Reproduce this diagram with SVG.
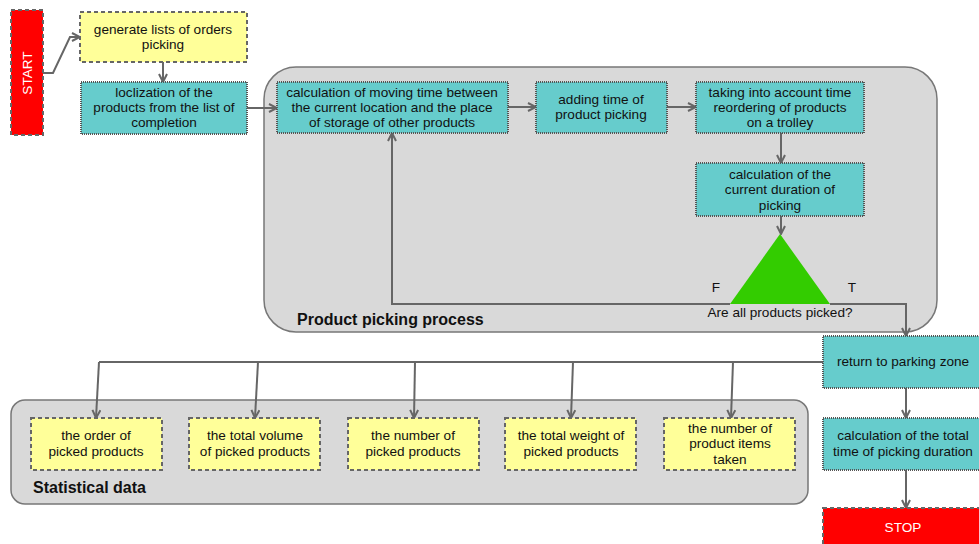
<svg xmlns="http://www.w3.org/2000/svg" width="979" height="544" viewBox="0 0 979 544">
<style>
text{font-family:"Liberation Sans",Arial,sans-serif;font-size:13.6px;fill:#111;text-anchor:middle}
.y{fill:#ffff99;stroke:#666;stroke-width:2;stroke-dasharray:4,3}
.t{fill:#66cccc;stroke:#555;stroke-width:2;stroke-dasharray:1,1}
.r{fill:#ff0000;stroke:#666;stroke-width:2;stroke-dasharray:4,3}
.g{fill:#d9d9d9;stroke:#777;stroke-width:1.5}
.b{font-weight:bold;font-size:16px;text-anchor:start}
.w{fill:#fff}
.c{fill:none;stroke:#666;stroke-width:2}
.c2{fill:none;stroke:#666;stroke-width:2;marker-end:url(#a)}
</style>
<defs>
<marker id="a" viewBox="0 0 10 10" refX="9" refY="5" markerWidth="5" markerHeight="5" orient="auto" markerUnits="strokeWidth">
<path d="M1,1 L9,5 L1,9" fill="none" stroke="#666" stroke-width="2"/>
</marker>
</defs>
<g id="group-picking"><rect class="g" x="264" y="67" width="673" height="265" rx="32"/><text class="b" x="297" y="325">Product picking process</text></g>
<g id="group-stats"><rect class="g" x="11" y="400" width="797" height="104" rx="14"/><text class="b" x="33" y="493">Statistical data</text></g>
<g id="connectors">
<path class="c2" d="M43,73 L53,73 L70,37 L80,37"/>
<path class="c2" d="M163,62 L163,82"/>
<path class="c2" d="M247,108 L277,108"/>
<path class="c2" d="M508,107 L536,107"/>
<path class="c2" d="M667,107 L696,107"/>
<path class="c2" d="M781,133 L781,163"/>
<path class="c2" d="M781,216 L781,234"/>
<path class="c2" d="M730,304 L392,304 L392,133"/>
<path class="c2" d="M830,304 L906,304 L906,336"/>
<path class="c" d="M823,362 L99,362"/>
<path class="c2" d="M99,362 L96,418"/>
<path class="c2" d="M258,362 L255,418"/>
<path class="c2" d="M415,362 L414,418"/>
<path class="c2" d="M573,362 L571,418"/>
<path class="c2" d="M733,362 L731,418"/>
<path class="c2" d="M906,388 L906,418"/>
<path class="c2" d="M906,470 L906,508"/>
</g>
<g id="start"><rect class="r" x="11" y="10" width="32" height="125"/><text class="w" transform="translate(32,73) rotate(-90)">START</text></g>
<g id="generate"><rect class="y" x="80" y="12" width="167" height="50"/><text x="163" y="34">generate lists of orders</text><text x="163" y="49">picking</text></g>
<g id="loclization"><rect class="t" x="81" y="82" width="166" height="52"/><text x="164" y="97">loclization of the</text><text x="164" y="112">products from the list of</text><text x="164" y="127">completion</text></g>
<g id="calc-moving"><rect class="t" x="277" y="82" width="231" height="51"/><text x="392" y="97">calculation of moving time between</text><text x="392" y="112">the current location and the place</text><text x="392" y="127">of storage of other products</text></g>
<g id="adding"><rect class="t" x="536" y="82" width="131" height="51"/><text x="601" y="104">adding time of</text><text x="601" y="119">product picking</text></g>
<g id="taking"><rect class="t" x="696" y="82" width="168" height="51"/><text x="780" y="97">taking into account time</text><text x="780" y="112">reordering of products</text><text x="780" y="127">on a trolley</text></g>
<g id="current-duration"><rect class="t" x="696" y="163" width="168" height="53"/><text x="780" y="179">calculation of the</text><text x="780" y="194">current duration of</text><text x="780" y="210">picking</text></g>
<g id="decision"><polygon points="780,234 830,304 730,304" fill="#33cc00"/><text x="716" y="292">F</text><text x="852" y="292">T</text><text x="780" y="317">Are all products picked?</text></g>
<g id="return"><rect class="t" x="823" y="336" width="160" height="52"/><text x="903" y="366">return to parking zone</text></g>
<g id="total-time"><rect class="t" x="823" y="418" width="160" height="52"/><text x="903" y="440">calculation of the total</text><text x="903" y="456">time of picking duration</text></g>
<g id="stop"><rect class="r" x="823" y="508" width="160" height="40"/><text class="w" x="903" y="532">STOP</text></g>
<g id="stat1"><rect class="y" x="31" y="418" width="131" height="52"/><text x="96" y="440">the order of</text><text x="96" y="456">picked products</text></g>
<g id="stat2"><rect class="y" x="189" y="418" width="131" height="52"/><text x="255" y="440">the total volume</text><text x="255" y="456">of picked products</text></g>
<g id="stat3"><rect class="y" x="348" y="418" width="131" height="52"/><text x="413" y="440">the number of</text><text x="413" y="456">picked products</text></g>
<g id="stat4"><rect class="y" x="505" y="418" width="131" height="52"/><text x="571" y="440">the total weight of</text><text x="571" y="456">picked products</text></g>
<g id="stat5"><rect class="y" x="664" y="418" width="131" height="52"/><text x="730" y="433">the number of</text><text x="730" y="448">product items</text><text x="730" y="464">taken</text></g>
</svg>
